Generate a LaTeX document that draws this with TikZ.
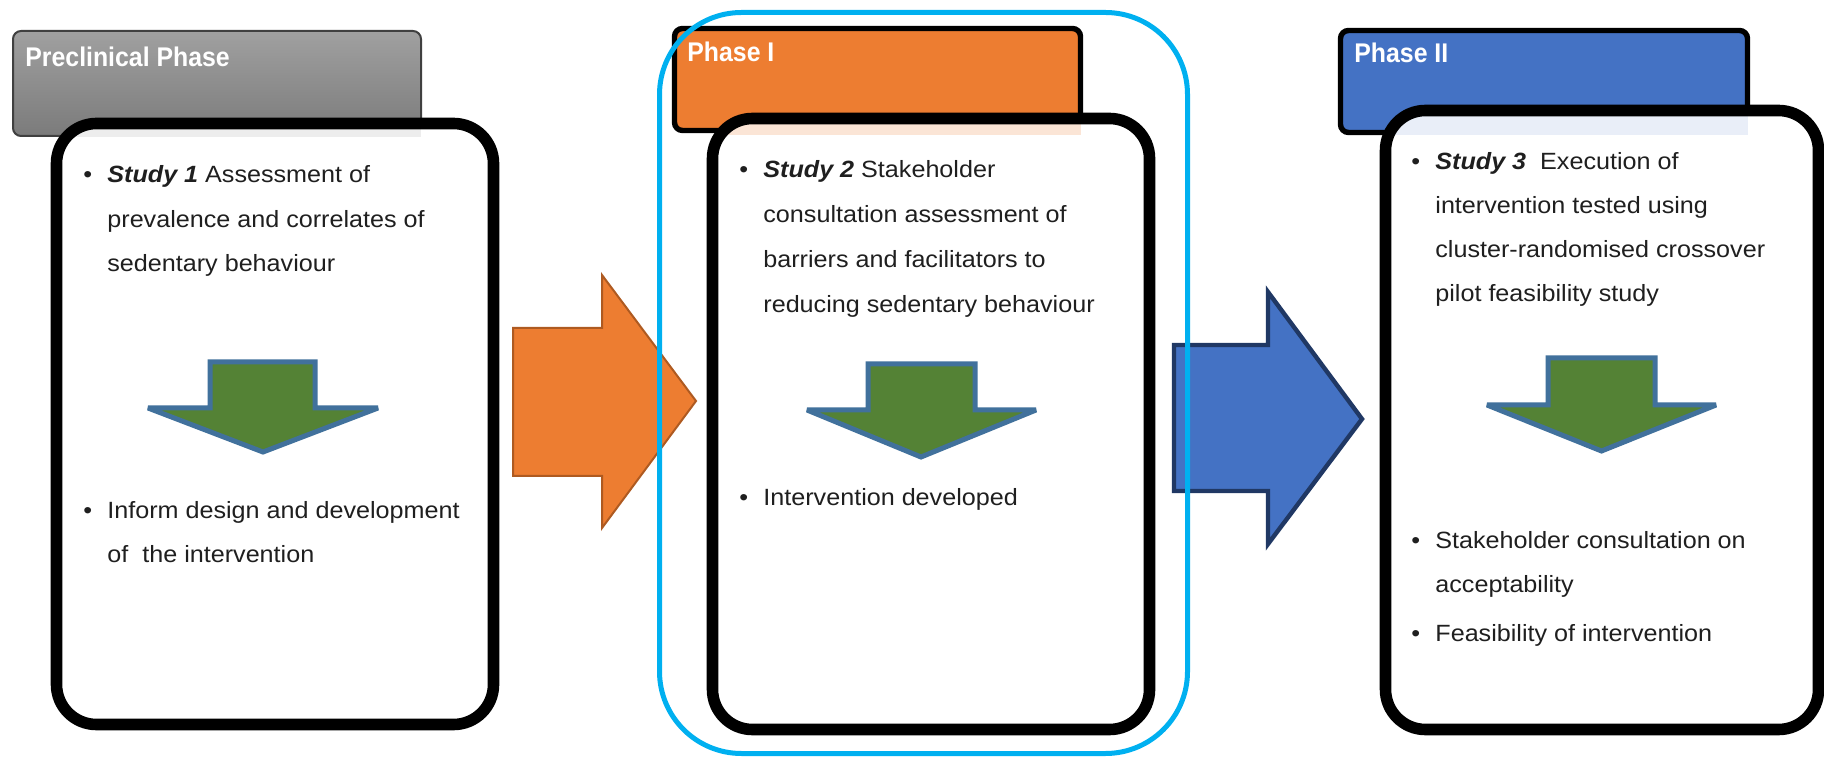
\documentclass[tikz,border=0pt]{standalone}
\usepackage{fontspec}
\setmainfont{Liberation Sans}
\newfontfamily\bodyface[FakeStretch=1.07]{Liberation Sans}
\newfontfamily\headface[FakeStretch=0.92]{Liberation Sans}
\definecolor{phaseorange}{HTML}{ED7D31}
\definecolor{phaseorangedark}{HTML}{AE5A21}
\definecolor{phaseblue}{HTML}{4472C4}
\definecolor{phasebluedark}{HTML}{203864}
\definecolor{arrowgreen}{HTML}{548235}
\definecolor{arrowedge}{HTML}{41719C}
\definecolor{ringcyan}{HTML}{00B0F0}
\definecolor{greytop}{HTML}{A0A0A0}
\definecolor{greybottom}{HTML}{7B7B7B}
\definecolor{tintgrey}{HTML}{EDEDED}
\definecolor{tintorange}{HTML}{FBE5D6}
\definecolor{tintblue}{HTML}{E9EEF8}
\begin{document}
\begin{tikzpicture}[x=0.5pt,y=-0.5pt,
  header/.style={rounded corners=4pt, draw=black, line width=2.7pt},
  studybox/.style={rounded corners=20pt, line width=5.8pt},
  greenarr/.style={fill=arrowgreen, draw=arrowedge, line width=2.5pt, miter limit=1.5},
  txt/.style={anchor=base west, inner sep=0pt, text=black!88, font=\bodyface\fontsize{11.75}{14}\selectfont},
  headtext/.style={anchor=base west, inner sep=0pt, text=white, font=\headface\bfseries\fontsize{13.5}{16}\selectfont}]

\useasboundingbox (0,0) rectangle (1824,758);

 %preclinical
\shadedraw[top color=greytop, bottom color=greybottom, draw=black!75, line width=1pt, rounded corners=4pt] (13,31) rectangle (421,136);
\node[headtext] (h0) at (25,67) {Preclinical Phase};
\fill[white, rounded corners=20pt] (56.5,123.5) rectangle (493.5,724.5);
\begin{scope}
\clip[rounded corners=20pt] (56.5,123.5) rectangle (493.5,724.5);
\fill[tintgrey] (56.5,123.5) rectangle (421,137);
\end{scope}
\draw[studybox] (56.5,123.5) rectangle (493.5,724.5);
\draw[greenarr] (210,362) -- (315,362) -- (315,408) -- (378,408) -- (263,452) -- (148,408) -- (210,408) -- cycle;
\node[txt] (b1a) at (83,183) {\textbullet};
\foreach \t [count=\i from 0] in {{\textbf{\textit{Study 1}} Assessment of},prevalence and correlates of,sedentary behaviour}
   \node[txt] (s1-\i) at (107,183+44.5*\i) {\t};
\node[txt] (b1b) at (83,518) {\textbullet};
\node[txt] (s1-3) at (107,518) {Inform design and development};
\node[txt] (s1-4) at (107,562) {of\ \ the intervention};

%phase I
\draw[header, fill=phaseorange] (674.5,28.5) rectangle (1080.5,130.5);
\node[headtext] (h1) at (687,62) {Phase I};
\fill[white, rounded corners=20pt] (712.5,118.5) rectangle (1149.5,729.5);
\begin{scope}
\clip[rounded corners=20pt] (712.5,118.5) rectangle (1149.5,729.5);
\fill[tintorange] (712.5,118.5) rectangle (1081,135);
\end{scope}
\draw[studybox] (712.5,118.5) rectangle (1149.5,729.5);
\draw[greenarr] (868,364) -- (975,364) -- (975,410) -- (1036,410) -- (921,457) -- (807,410) -- (868,410) -- cycle;
\node[txt] (b2a) at (739,178) {\textbullet};
\foreach \t [count=\i from 0] in {{\textbf{\textit{Study 2}} Stakeholder},consultation assessment of,barriers and facilitators to,reducing sedentary behaviour}
   \node[txt] (s2-\i) at (763,178+44.7*\i) {\t};
\node[txt] (b2b) at (739,506) {\textbullet};
\node[txt] (s2-4) at (763,506) {Intervention developed};

%phase II
\draw[header, fill=phaseblue] (1340.5,30.5) rectangle (1747.5,132.5);
\node[headtext] (h2) at (1354,63) {Phase II};
\fill[white, rounded corners=20pt] (1385.5,110.5) rectangle (1818.5,729.5);
\begin{scope}
\clip[rounded corners=20pt] (1385.5,110.5) rectangle (1818.5,729.5);
\fill[tintblue] (1385.5,110.5) rectangle (1748,135);
\end{scope}
\draw[studybox] (1385.5,110.5) rectangle (1818.5,729.5);
\draw[greenarr] (1548,358) -- (1655,358) -- (1655,405) -- (1716,405) -- (1601.5,451) -- (1487,405) -- (1548,405) -- cycle;
\node[txt] (b3a) at (1411,170) {\textbullet};
\foreach \t [count=\i from 0] in {{\textbf{\textit{Study 3}}\ \ Execution of},intervention tested using,cluster-randomised crossover,pilot feasibility study}
   \node[txt] (s3-\i) at (1435,170+44*\i) {\t};
\node[txt] (b3b) at (1411,548) {\textbullet};
\node[txt] (s3-4) at (1435,548) {Stakeholder consultation on};
\node[txt] (s3-5) at (1435,592) {acceptability};
\node[txt] (b3c) at (1411,641) {\textbullet};
\node[txt] (s3-6) at (1435,641) {Feasibility of intervention};

%block arrows between phases
\draw[fill=phaseorange, draw=phaseorangedark, line width=1pt] (513,328) -- (602,328) -- (602,275) -- (696,401) -- (602,528) -- (602,476) -- (513,476) -- cycle;
\draw[fill=phaseblue, draw=phasebluedark, line width=2.2pt] (1174,345) -- (1268,345) -- (1268,292) -- (1362,419) -- (1268,544) -- (1268,491) -- (1174,491) -- cycle;

%phase I highlight
\draw[ringcyan, line width=2.5pt, rounded corners=41pt] (659.5,12.5) rectangle (1187.5,753.5);

\end{tikzpicture}
\end{document}
